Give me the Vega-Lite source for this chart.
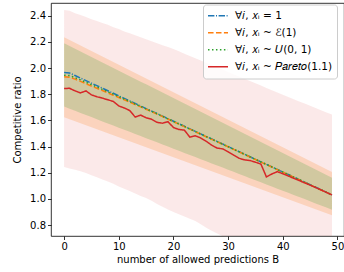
{
  "$schema": "https://vega.github.io/schema/vega-lite/v6.json",
  "width": 293,
  "height": 233,
  "autosize": {"type": "none"},
  "padding": {"left": 51, "top": 3, "right": 0, "bottom": 36},
  "background": "white",
  "config": {
    "font": "DejaVu Sans",
    "view": {"stroke": "#000000", "strokeWidth": 0.8},
    "axis": {
      "grid": false,
      "domain": false,
      "tickSize": 3.5,
      "tickColor": "#000000",
      "tickWidth": 0.8,
      "labelFontSize": 10,
      "labelColor": "#000000",
      "titleFontSize": 10,
      "titleFontWeight": "normal",
      "titleColor": "#000000",
      "labelBound": false,
      "labelFlush": false,
      "labelOverlap": false
    }
  },
  "data": {
    "values": [
      {"B":0,"a":1.965,"b":1.933,"c":1.945,"d":1.843,"pLo":1.243,"pHi":2.443,"sLo":1.624,"sHi":2.235,"oLo":1.705,"oHi":2.189},
      {"B":1,"a":1.962,"b":1.930,"c":1.943,"d":1.845,"pLo":1.232,"pHi":2.438,"sLo":1.609,"sHi":2.214,"oLo":1.689,"oHi":2.168},
      {"B":2,"a":1.943,"b":1.915,"c":1.926,"d":1.825,"pLo":1.222,"pHi":2.418,"sLo":1.593,"sHi":2.193,"oLo":1.673,"oHi":2.147},
      {"B":3,"a":1.923,"b":1.898,"c":1.909,"d":1.810,"pLo":1.210,"pHi":2.405,"sLo":1.578,"sHi":2.172,"oLo":1.657,"oHi":2.126},
      {"B":4,"a":1.904,"b":1.880,"c":1.891,"d":1.825,"pLo":1.197,"pHi":2.390,"sLo":1.563,"sHi":2.151,"oLo":1.641,"oHi":2.105},
      {"B":5,"a":1.884,"b":1.862,"c":1.873,"d":1.795,"pLo":1.180,"pHi":2.372,"sLo":1.548,"sHi":2.130,"oLo":1.625,"oHi":2.084},
      {"B":6,"a":1.865,"b":1.845,"c":1.855,"d":1.780,"pLo":1.165,"pHi":2.360,"sLo":1.532,"sHi":2.109,"oLo":1.609,"oHi":2.063},
      {"B":7,"a":1.846,"b":1.828,"c":1.837,"d":1.770,"pLo":1.148,"pHi":2.345,"sLo":1.517,"sHi":2.088,"oLo":1.592,"oHi":2.042},
      {"B":8,"a":1.826,"b":1.810,"c":1.818,"d":1.757,"pLo":1.132,"pHi":2.330,"sLo":1.502,"sHi":2.067,"oLo":1.576,"oHi":2.021},
      {"B":9,"a":1.807,"b":1.792,"c":1.800,"d":1.745,"pLo":1.115,"pHi":2.312,"sLo":1.486,"sHi":2.046,"oLo":1.560,"oHi":2.000},
      {"B":10,"a":1.787,"b":1.775,"c":1.781,"d":1.710,"pLo":1.095,"pHi":2.298,"sLo":1.471,"sHi":2.025,"oLo":1.544,"oHi":1.979},
      {"B":11,"a":1.768,"b":1.757,"c":1.762,"d":1.695,"pLo":1.078,"pHi":2.280,"sLo":1.456,"sHi":2.004,"oLo":1.528,"oHi":1.958},
      {"B":12,"a":1.749,"b":1.740,"c":1.744,"d":1.675,"pLo":1.060,"pHi":2.265,"sLo":1.441,"sHi":1.983,"oLo":1.512,"oHi":1.937},
      {"B":13,"a":1.729,"b":1.721,"c":1.725,"d":1.625,"pLo":1.040,"pHi":2.250,"sLo":1.425,"sHi":1.962,"oLo":1.496,"oHi":1.917},
      {"B":14,"a":1.710,"b":1.703,"c":1.706,"d":1.640,"pLo":1.022,"pHi":2.235,"sLo":1.410,"sHi":1.941,"oLo":1.480,"oHi":1.896},
      {"B":15,"a":1.690,"b":1.685,"c":1.687,"d":1.620,"pLo":1.006,"pHi":2.220,"sLo":1.395,"sHi":1.920,"oLo":1.464,"oHi":1.875},
      {"B":16,"a":1.671,"b":1.667,"c":1.669,"d":1.608,"pLo":0.985,"pHi":2.205,"sLo":1.379,"sHi":1.899,"oLo":1.448,"oHi":1.854},
      {"B":17,"a":1.652,"b":1.648,"c":1.650,"d":1.585,"pLo":0.960,"pHi":2.190,"sLo":1.364,"sHi":1.878,"oLo":1.432,"oHi":1.833},
      {"B":18,"a":1.632,"b":1.629,"c":1.631,"d":1.578,"pLo":0.940,"pHi":2.175,"sLo":1.349,"sHi":1.857,"oLo":1.416,"oHi":1.812},
      {"B":19,"a":1.613,"b":1.610,"c":1.611,"d":1.590,"pLo":0.918,"pHi":2.160,"sLo":1.334,"sHi":1.836,"oLo":1.400,"oHi":1.791},
      {"B":20,"a":1.593,"b":1.590,"c":1.592,"d":1.545,"pLo":0.900,"pHi":2.145,"sLo":1.318,"sHi":1.815,"oLo":1.383,"oHi":1.770},
      {"B":21,"a":1.574,"b":1.571,"c":1.573,"d":1.530,"pLo":0.882,"pHi":2.128,"sLo":1.303,"sHi":1.794,"oLo":1.367,"oHi":1.749},
      {"B":22,"a":1.555,"b":1.552,"c":1.554,"d":1.525,"pLo":0.865,"pHi":2.110,"sLo":1.288,"sHi":1.773,"oLo":1.351,"oHi":1.728},
      {"B":23,"a":1.535,"b":1.533,"c":1.534,"d":1.472,"pLo":0.848,"pHi":2.092,"sLo":1.272,"sHi":1.752,"oLo":1.335,"oHi":1.707},
      {"B":24,"a":1.516,"b":1.513,"c":1.515,"d":1.482,"pLo":0.830,"pHi":2.075,"sLo":1.257,"sHi":1.731,"oLo":1.319,"oHi":1.686},
      {"B":25,"a":1.496,"b":1.494,"c":1.495,"d":1.465,"pLo":0.805,"pHi":2.058,"sLo":1.242,"sHi":1.710,"oLo":1.303,"oHi":1.665},
      {"B":26,"a":1.477,"b":1.475,"c":1.476,"d":1.440,"pLo":0.780,"pHi":2.040,"sLo":1.227,"sHi":1.689,"oLo":1.287,"oHi":1.644},
      {"B":27,"a":1.458,"b":1.455,"c":1.457,"d":1.410,"pLo":0.757,"pHi":2.022,"sLo":1.211,"sHi":1.668,"oLo":1.271,"oHi":1.623},
      {"B":28,"a":1.438,"b":1.436,"c":1.437,"d":1.388,"pLo":0.735,"pHi":2.005,"sLo":1.196,"sHi":1.646,"oLo":1.255,"oHi":1.602},
      {"B":29,"a":1.419,"b":1.417,"c":1.418,"d":1.382,"pLo":0.715,"pHi":1.988,"sLo":1.181,"sHi":1.625,"oLo":1.239,"oHi":1.581},
      {"B":30,"a":1.399,"b":1.398,"c":1.399,"d":1.360,"pLo":0.695,"pHi":1.970,"sLo":1.165,"sHi":1.604,"oLo":1.223,"oHi":1.560},
      {"B":31,"a":1.380,"b":1.378,"c":1.379,"d":1.335,"pLo":0.675,"pHi":1.952,"sLo":1.150,"sHi":1.583,"oLo":1.207,"oHi":1.539},
      {"B":32,"a":1.361,"b":1.359,"c":1.360,"d":1.310,"pLo":0.655,"pHi":1.935,"sLo":1.135,"sHi":1.562,"oLo":1.190,"oHi":1.518},
      {"B":33,"a":1.341,"b":1.340,"c":1.341,"d":1.298,"pLo":0.635,"pHi":1.918,"sLo":1.120,"sHi":1.541,"oLo":1.174,"oHi":1.497},
      {"B":34,"a":1.322,"b":1.320,"c":1.321,"d":1.293,"pLo":0.615,"pHi":1.900,"sLo":1.104,"sHi":1.520,"oLo":1.158,"oHi":1.476},
      {"B":35,"a":1.302,"b":1.301,"c":1.302,"d":1.280,"pLo":0.595,"pHi":1.883,"sLo":1.089,"sHi":1.499,"oLo":1.142,"oHi":1.455},
      {"B":36,"a":1.283,"b":1.281,"c":1.282,"d":1.266,"pLo":0.575,"pHi":1.866,"sLo":1.074,"sHi":1.478,"oLo":1.126,"oHi":1.434},
      {"B":37,"a":1.264,"b":1.262,"c":1.263,"d":1.168,"pLo":0.555,"pHi":1.848,"sLo":1.058,"sHi":1.457,"oLo":1.110,"oHi":1.413},
      {"B":38,"a":1.244,"b":1.243,"c":1.244,"d":1.190,"pLo":0.535,"pHi":1.830,"sLo":1.043,"sHi":1.436,"oLo":1.094,"oHi":1.393},
      {"B":39,"a":1.225,"b":1.223,"c":1.224,"d":1.208,"pLo":0.515,"pHi":1.813,"sLo":1.028,"sHi":1.415,"oLo":1.078,"oHi":1.372},
      {"B":40,"a":1.205,"b":1.204,"c":1.205,"d":1.192,"pLo":0.495,"pHi":1.796,"sLo":1.012,"sHi":1.394,"oLo":1.062,"oHi":1.351},
      {"B":41,"a":1.186,"b":1.185,"c":1.185,"d":1.175,"pLo":0.475,"pHi":1.779,"sLo":0.997,"sHi":1.373,"oLo":1.046,"oHi":1.330},
      {"B":42,"a":1.167,"b":1.165,"c":1.166,"d":1.157,"pLo":0.455,"pHi":1.762,"sLo":0.982,"sHi":1.352,"oLo":1.030,"oHi":1.309},
      {"B":43,"a":1.147,"b":1.146,"c":1.147,"d":1.140,"pLo":0.435,"pHi":1.745,"sLo":0.967,"sHi":1.331,"oLo":1.014,"oHi":1.288},
      {"B":44,"a":1.128,"b":1.126,"c":1.127,"d":1.122,"pLo":0.415,"pHi":1.728,"sLo":0.951,"sHi":1.310,"oLo":0.998,"oHi":1.267},
      {"B":45,"a":1.108,"b":1.107,"c":1.108,"d":1.105,"pLo":0.395,"pHi":1.711,"sLo":0.936,"sHi":1.289,"oLo":0.981,"oHi":1.246},
      {"B":46,"a":1.089,"b":1.088,"c":1.088,"d":1.087,"pLo":0.375,"pHi":1.694,"sLo":0.921,"sHi":1.268,"oLo":0.965,"oHi":1.225},
      {"B":47,"a":1.070,"b":1.068,"c":1.069,"d":1.068,"pLo":0.355,"pHi":1.677,"sLo":0.905,"sHi":1.247,"oLo":0.949,"oHi":1.204},
      {"B":48,"a":1.050,"b":1.049,"c":1.050,"d":1.049,"pLo":0.335,"pHi":1.660,"sLo":0.890,"sHi":1.226,"oLo":0.933,"oHi":1.183},
      {"B":49,"a":1.031,"b":1.030,"c":1.030,"d":1.030,"pLo":0.315,"pHi":1.645,"sLo":0.875,"sHi":1.205,"oLo":0.917,"oHi":1.162}
    ]
  },
  "encoding": {
    "x": {
      "field": "B",
      "type": "quantitative",
      "scale": {"domain": [-2.4, 51.2], "nice": false, "zero": false},
      "axis": {"values": [0, 10, 20, 30, 40, 50], "title": "number of allowed predictions B", "labelPadding": 2, "titlePadding": 3}
    }
  },
  "layer": [
    {
      "mark": {"type": "area", "color": "#d62728", "opacity": 0.1, "clip": true},
      "encoding": {
        "y": {
          "field": "pLo",
          "type": "quantitative",
          "scale": {"domain": [0.716, 2.497], "nice": false, "zero": false},
          "axis": {"values": [0.8, 1.0, 1.2, 1.4, 1.6, 1.8, 2.0, 2.2, 2.4], "format": ".1f", "title": "Competitive ratio", "labelPadding": 2, "titlePadding": 7, "labelOverlap": false, "tickCount": 9}
        },
        "y2": {"field": "pHi"}
      }
    },
    {
      "mark": {"type": "area", "color": "#ff7f0e", "opacity": 0.2, "clip": true},
      "encoding": {
        "y": {"field": "sLo", "type": "quantitative", "axis": {"values": [0.8, 1.0, 1.2, 1.4, 1.6, 1.8, 2.0, 2.2, 2.4], "format": ".1f", "title": "Competitive ratio", "labelPadding": 2, "titlePadding": 7, "labelOverlap": false, "tickCount": 9}},
        "y2": {"field": "sHi"}
      }
    },
    {
      "mark": {"type": "area", "color": "#2ca02c", "opacity": 0.2, "clip": true},
      "encoding": {
        "y": {"field": "oLo", "type": "quantitative", "axis": {"values": [0.8, 1.0, 1.2, 1.4, 1.6, 1.8, 2.0, 2.2, 2.4], "format": ".1f", "title": "Competitive ratio", "labelPadding": 2, "titlePadding": 7, "labelOverlap": false, "tickCount": 9}},
        "y2": {"field": "oHi"}
      }
    },
    {
      "transform": [{"fold": ["a", "b", "c", "d"], "as": ["series", "value"]}],
      "mark": {"type": "line", "strokeWidth": 1.5, "clip": true},
      "encoding": {
        "y": {"field": "value", "type": "quantitative", "axis": {"values": [0.8, 1.0, 1.2, 1.4, 1.6, 1.8, 2.0, 2.2, 2.4], "format": ".1f", "title": "Competitive ratio", "labelPadding": 2, "titlePadding": 7, "labelOverlap": false, "tickCount": 9}},
        "color": {
          "field": "series",
          "type": "nominal",
          "scale": {"domain": ["a", "b", "c", "d"], "range": ["#1f77b4", "#ff7f0e", "#2ca02c", "#d62728"]},
          "legend": {
            "orient": "none",
            "legendX": 152,
            "legendY": 1.5,
            "title": null,
            "labelExpr": "datum.label == 'a' ? '∀𝑖, 𝑥ᵢ = 1' : datum.label == 'b' ? '∀𝑖, 𝑥ᵢ ~ ℰ(1)' : datum.label == 'c' ? '∀𝑖, 𝑥ᵢ ~ 𝑈(0, 1)' : '∀𝑖, 𝑥ᵢ ~ 𝑃𝑎𝑟𝑒𝑡𝑜(1.1)'",
            "symbolType": "stroke",
            "symbolSize": 400,
            "symbolStrokeWidth": 1.5,
            "fillColor": "rgba(255,255,255,0.8)",
            "strokeColor": "#cccccc",
            "cornerRadius": 3,
            "padding": 4,
            "clipHeight": 14.5,
            "rowPadding": 2,
            "labelFontSize": 10.5,
            "labelOffset": 6,
            "labelColor": "#000000",
            "labelLimit": 300
          }
        },
        "strokeDash": {
          "field": "series",
          "type": "nominal",
          "scale": {"domain": ["a", "b", "c", "d"], "range": [[6.4, 1.6, 1, 1.6], [5.55, 2.4], [1.5, 2.475], [1, 0]]},
          "legend": {
            "orient": "none",
            "legendX": 152,
            "legendY": 1.5,
            "title": null,
            "labelExpr": "datum.label == 'a' ? '∀𝑖, 𝑥ᵢ = 1' : datum.label == 'b' ? '∀𝑖, 𝑥ᵢ ~ ℰ(1)' : datum.label == 'c' ? '∀𝑖, 𝑥ᵢ ~ 𝑈(0, 1)' : '∀𝑖, 𝑥ᵢ ~ 𝑃𝑎𝑟𝑒𝑡𝑜(1.1)'",
            "symbolType": "stroke",
            "symbolSize": 400,
            "symbolStrokeWidth": 1.5,
            "fillColor": "rgba(255,255,255,0.8)",
            "strokeColor": "#cccccc",
            "cornerRadius": 3,
            "padding": 4,
            "clipHeight": 14.5,
            "rowPadding": 2,
            "labelFontSize": 10.5,
            "labelOffset": 6,
            "labelColor": "#000000",
            "labelLimit": 300
          }
        }
      }
    }
  ]
}
